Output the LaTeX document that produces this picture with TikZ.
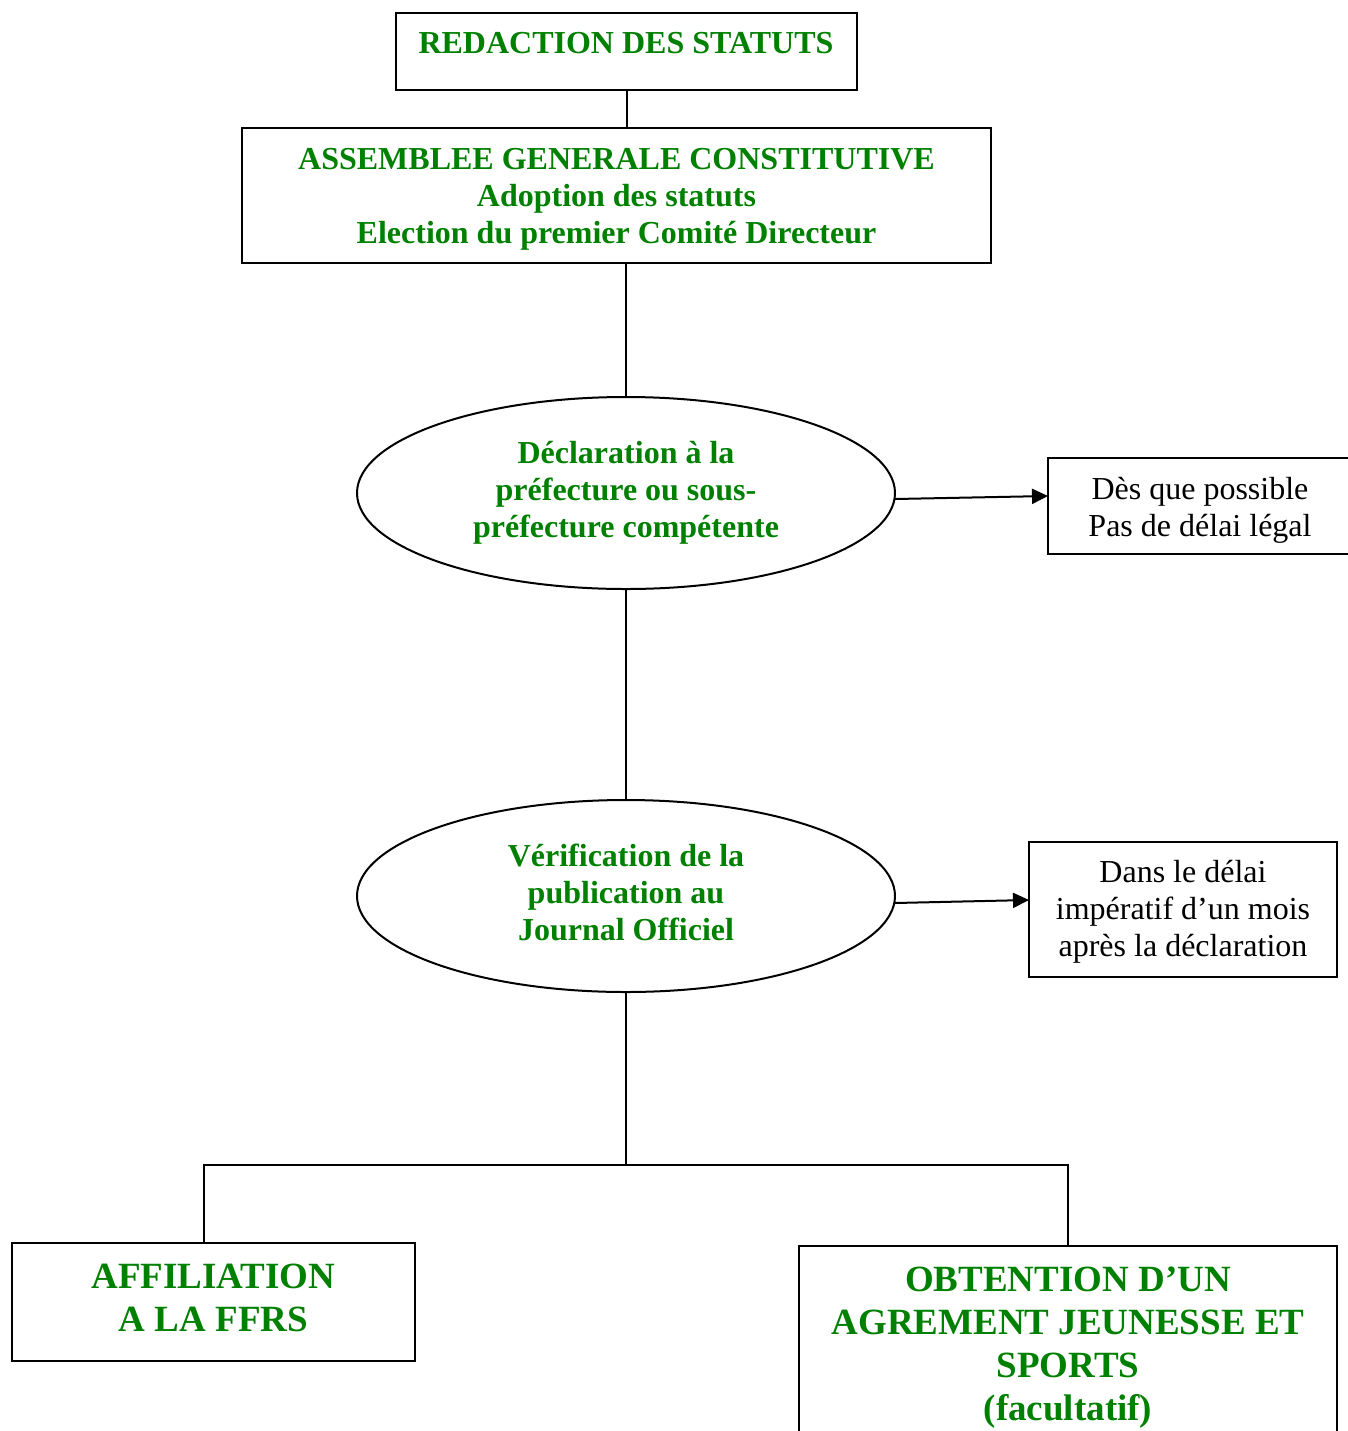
\documentclass[tikz,border=0pt]{standalone}
\usepackage{fontspec}
\setmainfont{Liberation Serif}
\usetikzlibrary{arrows.meta,shapes.geometric}
\definecolor{dgreen}{RGB}{0,128,0}
\begin{document}
\begin{tikzpicture}[x=0.5pt,y=-0.5pt,
  every node/.style={inner sep=0pt,outer sep=0pt},
  gtext/.style={text=dgreen,font=\fontsize{16pt}{18.5pt}\selectfont\bfseries,align=center},
  gbig/.style={text=dgreen,font=\fontsize{18.5pt}{21.5pt}\selectfont\bfseries,align=center},
  btext/.style={text=black,font=\fontsize{16pt}{18.5pt}\selectfont,align=center},
  boxshape/.style={draw,line width=1pt,rectangle},
  ellshape/.style={draw,line width=1pt,ellipse},
  link/.style={line width=1pt},
  arr/.style={line width=1pt,-{Triangle[length=8pt,width=7.5pt]}}]
\useasboundingbox (0,0) rectangle (1348,1431);
\clip (0,0) rectangle (1348,1431);

% shapes
\node[boxshape,minimum width=230.5pt,minimum height=38.5pt] (b1) at (626.5,51.5) {};
\node[boxshape,minimum width=374.5pt,minimum height=67.5pt] (b2) at (616.5,195.5) {};
\node[ellshape,minimum width=269pt,minimum height=96pt] (e1) at (626,493) {};
\node[boxshape,minimum width=151pt,minimum height=48pt] (r1) at (1199,506) {};
\node[ellshape,minimum width=269pt,minimum height=96pt] (e2) at (626,896) {};
\node[boxshape,minimum width=154pt,minimum height=67.5pt] (r2) at (1183,909.5) {};
\node[boxshape,minimum width=201.5pt,minimum height=59pt] (a1) at (213.5,1302) {};
\node[boxshape,minimum width=269pt,minimum height=97.5pt] (o1) at (1068,1343.5) {};

% texts
\node[gtext] (t1) at (626,43) {REDACTION DES STATUTS};
\node[gtext] (t2) at (616.5,199.5)
  {ASSEMBLEE GENERALE CONSTITUTIVE\\Adoption des statuts\\Election du premier Comité Directeur};
\node[gtext] (t3) at (626,493)
  {Déclaration à la\\préfecture ou sous-\\préfecture compétente};
\node[btext] (t4) at (1200,510)
  {Dès que possible\\Pas de délai légal};
\node[gtext] (t5) at (626,892)
  {Vérification de la\\publication au\\Journal Officiel};
\node[btext] (t6) at (1183,911.5)
  {Dans le délai\\impératif d’un mois\\après la déclaration};
\node[gbig] (t7) at (213.5,1298)
  {AFFILIATION\\A LA FFRS};
\node[gbig] (t8) at (1068,1347.5)
  {OBTENTION D’UN\\AGREMENT JEUNESSE ET\\SPORTS\\(facultatif)};

% connectors
\draw[link] (b1.south) -- (b1.south |- b2.north);
\draw[link] (e1.north |- b2.south) -- (e1.north);
\draw[link] (e1.south) -- (e2.north);
\draw[arr] (e1.east |- 0,499) -- (r1.west |- 0,496);
\draw[arr] (e2.east |- 0,903) -- (r2.west |- 0,900);
\coordinate (jl) at (204,1165);
\coordinate (jr) at (1068,1165);
\draw[link] (e2.south) -- (e2.south |- jl);
\draw[link] (jl |- a1.north) -- (jl) -- (jr) -- (o1.north);
\end{tikzpicture}
\end{document}
